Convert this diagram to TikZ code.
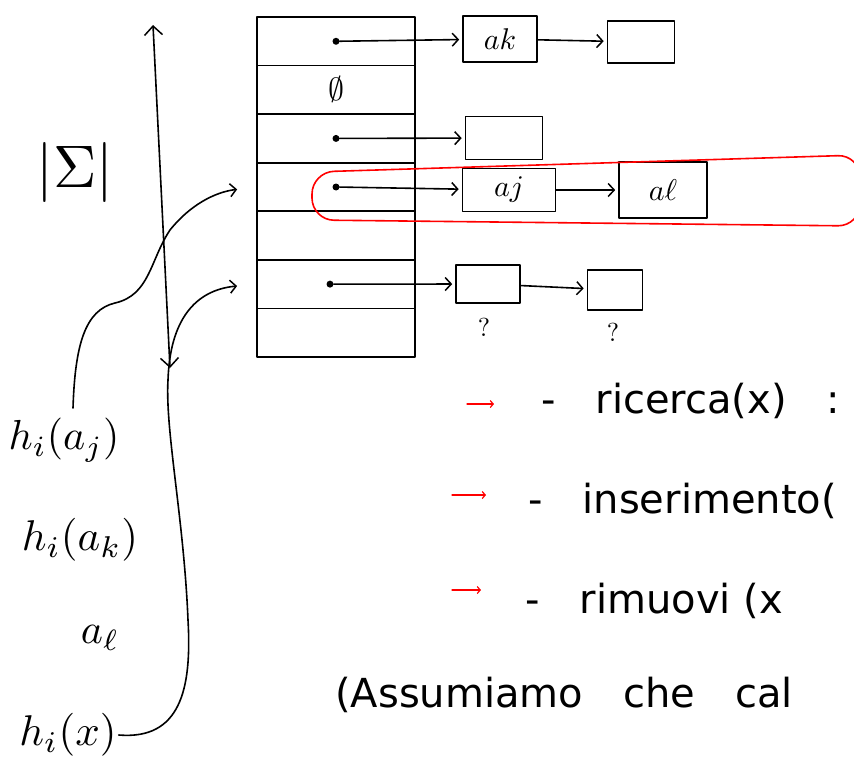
\documentclass[tikz,border=0pt]{standalone}
\usepackage{amsmath}
\usepackage{amssymb}
\usepackage{fontspec}
\setmainfont{DejaVu Sans}
\usetikzlibrary{calc, arrows.meta}

\newcommand{\mbig}[2]{\scalebox{#1}{$#2$}}

\begin{document}
\begin{tikzpicture}[x=1pt, y=-1pt,
    hand/.style={line width=1.6pt, line cap=round, line join=round},
    tip/.style={hand, -{Straight Barb[length=6pt, width=13pt, line width=1.5pt]}},
    both/.style={hand, {Straight Barb[length=9pt, width=18pt, line width=1.5pt]}-{Straight Barb[length=9pt, width=18pt, line width=1.5pt]}},
    redtip/.style={red, line width=1.2pt, line cap=round, -{Straight Barb[length=3pt, width=7pt, line width=1.2pt]}},
    cell/.style={draw, hand, minimum width=158pt, minimum height=48.57pt, inner sep=0pt, outer sep=0pt},
    box/.style={draw, hand, inner sep=0pt},
    dot/.style={circle, fill, inner sep=0pt, minimum size=7pt},
    lbl/.style={inner sep=2pt},
    txt/.style={anchor=base west, inner sep=0pt, font=\fontsize{40}{44}\selectfont}]

    \useasboundingbox (0,0) rectangle (854,777);
    \clip (0,0) rectangle (854,777);

    % the table
    \foreach \r in {1,...,7}
        \node[cell] (row\r) at (336, {17+48.57*(\r-0.5)}) {};

    \node[dot] (d1) at (row1) {};
    \node (nil) at (row2) {\mbig{3.2}{\emptyset}};
    \node[dot] (d3) at (row3) {};
    \node[dot] (d4) at (row4) {};
    \node[dot] (d6) at ($(row6)+(-6,0)$) {};

    % the lists
    \node[box, minimum width=74pt, minimum height=46pt] (bak) at (500,39) {\mbig{3}{ak}};
    \node[box, minimum width=67pt, minimum height=42pt] (bk2) at (641,42) {};
    \node[box, minimum width=77pt, minimum height=43pt] (b3) at (504,138) {};
    \node[box, minimum width=93pt, minimum height=43pt] (baj) at (509,190) {\mbig{3}{aj}};
    \node[box, minimum width=88pt, minimum height=56pt] (bal) at (663,190) {\mbig{3}{a\ell}};
    \node[box, minimum width=64pt, minimum height=38pt] (bq1) at (488,284) {};
    \node[box, minimum width=55pt, minimum height=40pt] (bq2) at (615,290) {};
    \node (q1) at (484,327) {\mbig{2.6}{?}};
    \node (q2) at (613,332) {\mbig{2.6}{?}};

    \draw[tip, shorten >=3pt] (d1) -- (bak);
    \draw[tip, shorten >=3pt] (bak) -- (bk2);
    \draw[tip, shorten >=3pt] (d3) -- (b3);
    \draw[tip, shorten >=3pt] (d4) -- (baj);
    \draw[tip, shorten >=3pt] (baj) -- (bal);
    \draw[tip, shorten >=3pt] (d6) -- (bq1);
    \draw[tip, shorten >=3pt] (bq1) -- (bq2);

    \draw[red, hand, rounded corners=22pt]
        (312,172) -- (860,155) -- (860,226) -- (312,220) -- cycle;

    % left side
    \node (sigma) at (75,172) {\mbig{6}{|\Sigma|}};
    \coordinate (up) at (153,25);
    \coordinate (down) at (170,368);
    \draw[both] (up) -- (down);

    \node[lbl] (lhaj) at (64,440) {\mbig{4.2}{h_i(a_j)}};
    \node[lbl] (lhak) at (80,540) {\mbig{4.3}{h_i(a_k)}};
    \node[lbl] (lael) at (100,638) {\mbig{4.2}{a_\ell}};
    \node[lbl] (lhx) at (68,735) {\mbig{4.3}{h_i(x)}};

    \draw[tip, shorten >=20pt] ($(lhaj.north)+(9,-8)$)
        .. controls (75,345) and (85,310) .. (115,303)
        .. controls (150,295) and (150,260) .. (170,230)
        .. controls (190,205) and (215,192) .. (row4.west);
    \draw[tip, shorten >=20pt] (lhx.east)
        .. controls (180,740) and (192,690) .. (188,620)
        .. controls (184,520) and (165,430) .. (168,380)
        .. controls (170,320) and (195,290) .. (row6.west);

    % operations
    \coordinate (ra1) at (467,404);
    \coordinate (rb1) at (494,404);
    \coordinate (ra2) at (452,495);
    \coordinate (rb2) at (486,495);
    \coordinate (ra3) at (452,590);
    \coordinate (rb3) at (481,590);
    \draw[redtip] (ra1) -- (rb1);
    \draw[redtip] (ra2) -- (rb2);
    \draw[redtip] (ra3) -- (rb3);

    \node[txt] (op1) at (541,413) {-\quad ricerca(x)\quad :};
    \node[txt] (op2) at (528,513) {-\quad inserimento(};
    \node[txt] (op3) at (525,613) {-\quad rimuovi (x};
    \node[txt] (note) at (335,707) {(Assumiamo\quad che\quad cal};
\end{tikzpicture}
\end{document}
